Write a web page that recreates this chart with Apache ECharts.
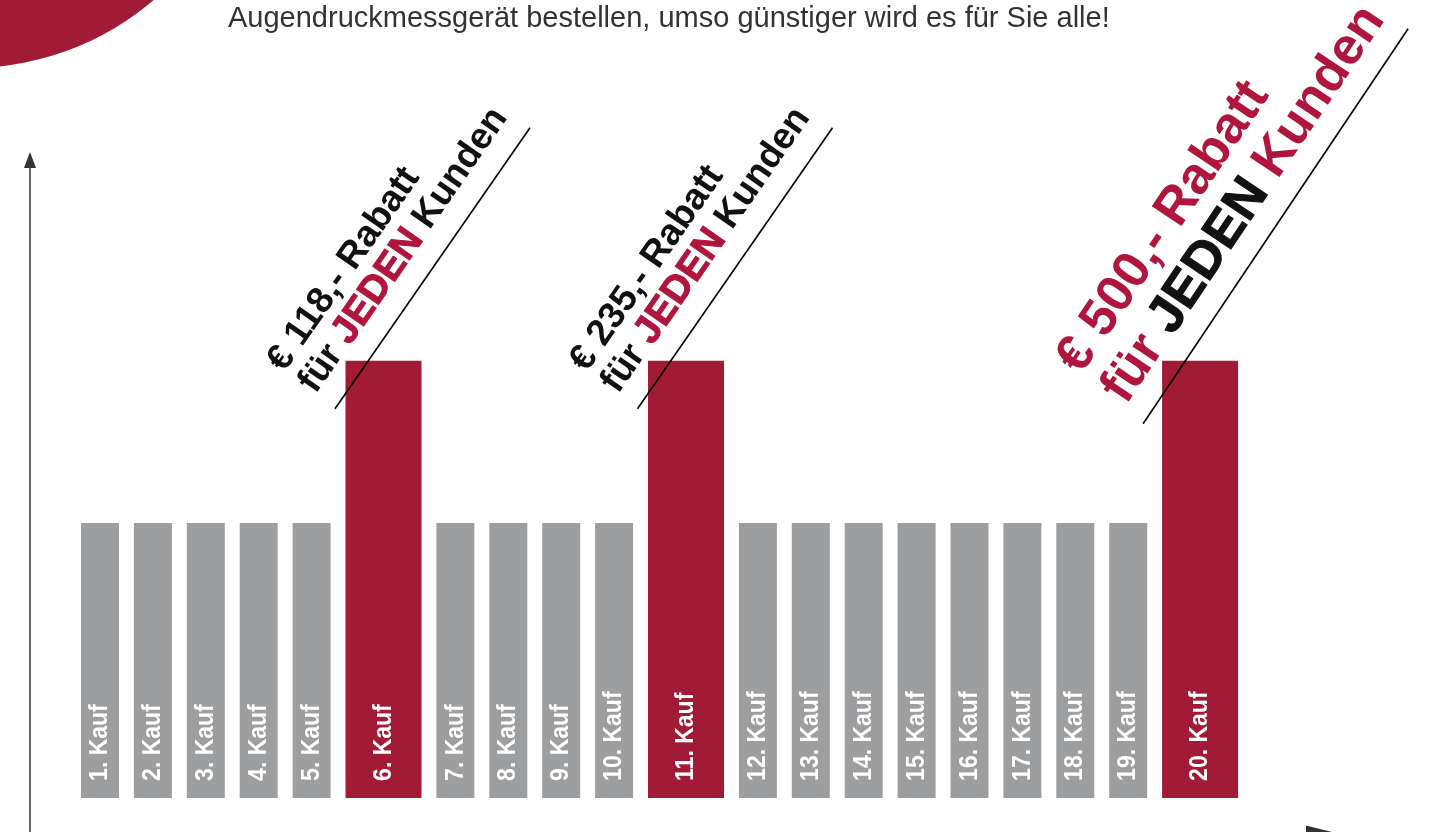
<!DOCTYPE html>
<html>
<head>
<meta charset="utf-8">
<script src="https://cdn.jsdelivr.net/npm/echarts@6/dist/echarts.min.js"></script>
<style>
html,body{margin:0;padding:0;background:#ffffff;}
#chart{width:1429px;height:832px;}
</style>
</head>
<body>
<div id="chart"></div>
<script>
// ---------------- data ----------------
const titleText = 'Augendruckmessgerät bestellen, umso günstiger wird es für Sie alle!';
const categories = ['1. Kauf','2. Kauf','3. Kauf','4. Kauf','5. Kauf','6. Kauf','7. Kauf','8. Kauf','9. Kauf','10. Kauf',
                    '11. Kauf','12. Kauf','13. Kauf','14. Kauf','15. Kauf','16. Kauf','17. Kauf','18. Kauf','19. Kauf','20. Kauf'];
const barValues = [100,100,100,100,100,159,100,100,100,100,159,100,100,100,100,100,100,100,100,159];
// discount (in €) given at a purchase; null = ordinary purchase
const discounts = [null,null,null,null,null,118,null,null,null,null,235,null,null,null,null,null,null,null,null,500];

// ---------------- style ----------------
const RED = '#A21B36';
const TEXT_RED = '#B0153D';
const GRAY = '#9D9EA0';
const FONT = '"Liberation Sans", Helvetica, Arial, sans-serif';
const BAR_W = 38, GAP = 14.9, START = 51;

// build layout positions along the value x-axis (1 unit = 1 px)
const barData = [];
let pos = START;
for (let i = 0; i < categories.length; i++) {
  const w = discounts[i] != null ? 2 * BAR_W : BAR_W;
  barData.push([pos, pos + w, barValues[i], i]);
  pos += w + GAP;
}

// annotation styles (normal and final big one)
const annStyles = {
  normal: {angle: 55.2, fs: 37, lh: 38, jScale: 1.05, lineA: [-10.5, 48], lineB: [184.5, -233], base: [-76.5, 6.5],
           perp: 17, along: 4, c1: '#111111', c2: TEXT_RED, c3: '#111111'},
  big:    {angle: 56.1, fs: 52, lh: 54, jScale: 1.0, lineA: [-19, 63], lineB: [246, -332], base: [-105, 7],
           perp: 26, along: 7, c1: TEXT_RED, c2: '#111111', c3: TEXT_RED}
};

function annotation(L, T, amount, st) {
  const th = st.angle * Math.PI / 180;
  const s = Math.sin(th), c = Math.cos(th);
  const bo = st.lh / 2 + 0.31 * st.fs - st.perp;
  const bx = L + st.base[0] + st.along * c, by = T + st.base[1] - st.along * s;
  const ax = bx - bo * s, ay = by - bo * c;
  const tok = (col) => ({fill: col, fontSize: st.fs, fontFamily: FONT, fontWeight: 'bold', lineHeight: st.lh});
  return [
    {type: 'line', shape: {x1: L + st.lineA[0], y1: T + st.lineA[1], x2: L + st.lineB[0], y2: T + st.lineB[1]},
     style: {stroke: '#000', lineWidth: 1.6}},
    {type: 'text', x: ax, y: ay, rotation: th,
     style: {
       text: '{a|€ ' + amount + ',- Rabatt}\n{b|für }{j|JEDEN}{c| Kunden}',
       align: 'left', verticalAlign: 'top',
       rich: {
         a: tok(st.c1),
         b: tok(st.c1),
         c: tok(st.c3),
         j: {fill: st.c2, stroke: st.c2, lineWidth: 1, fontSize: Math.round(st.fs * st.jScale), fontFamily: FONT, fontWeight: 'bold', lineHeight: st.lh}
       }
     }}
  ];
}

function renderItem(params, api) {
  const i = api.value(3);
  const p0 = api.coord([api.value(0), api.value(2)]);
  const p1 = api.coord([api.value(1), 0]);
  const L = p0[0], T = p0[1], R = p1[0], B = p1[1];
  const hi = discounts[i] != null;
  const children = [
    {type: 'rect', shape: {x: L, y: T, width: R - L, height: B - T}, style: {fill: hi ? RED : GRAY}},
    {type: 'text', x: (L + R) / 2, y: B - 17, rotation: Math.PI / 2, scaleY: 1.12,
     style: {text: categories[i], fill: '#ffffff', font: 'bold 23px ' + FONT, align: 'left', verticalAlign: 'middle'}}
  ];
  if (hi) {
    const st = (i === categories.length - 1) ? annStyles.big : annStyles.normal;
    annotation(L, T, discounts[i], st).forEach(c => children.push(c));
  }
  return {type: 'group', children: children};
}

const chart = echarts.init(document.getElementById('chart'), null, {renderer: 'canvas'});
chart.setOption({
  backgroundColor: '#ffffff',
  animation: false,
  title: {
    text: titleText, left: 228, top: 2, padding: 0,
    textStyle: {fontSize: 29, fontWeight: 'normal', color: '#333333', fontFamily: FONT, lineHeight: 34}
  },
  graphic: [
    {type: 'circle', shape: {cx: -30, cy: -214, r: 282}, style: {fill: RED}, z: -1}
  ],
  grid: {left: 30, right: 110, top: 160, bottom: 0},
  xAxis: {
    type: 'value', min: 0, max: 1289,
    axisLine: {show: true, onZero: false, symbol: ['none', 'triangle'], symbolSize: [13, 26],
               lineStyle: {color: '#333333', width: 1}},
    axisTick: {show: false}, axisLabel: {show: false}, splitLine: {show: false}
  },
  yAxis: {
    type: 'value', min: -12.4, max: 232,
    axisLine: {show: true, symbol: ['none', 'triangle'], symbolSize: [12, 16],
               lineStyle: {color: '#333333', width: 1.5}},
    axisTick: {show: false}, axisLabel: {show: false}, splitLine: {show: false}
  },
  series: [{
    type: 'custom',
    renderItem: renderItem,
    encode: {x: [0, 1], y: 2},
    data: barData,
    clip: false
  }]
});
</script>
</body>
</html>
